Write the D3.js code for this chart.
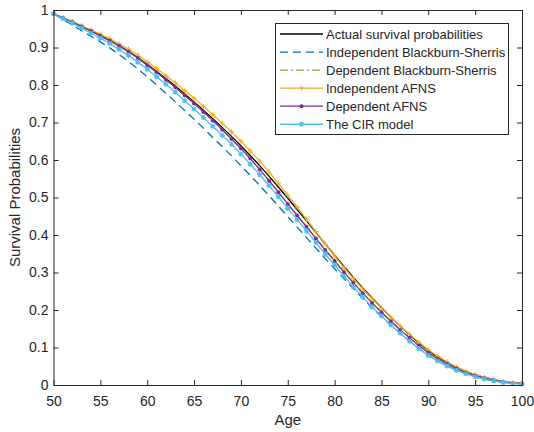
<!DOCTYPE html>
<html>
<head>
<meta charset="utf-8">
<script src="https://cdn.jsdelivr.net/npm/d3@7"></script>
<style>
  html, body { margin: 0; padding: 0; background: #fff; }
  svg { display: block; }
  text { font-family: "Liberation Sans", Arial, Helvetica, sans-serif; fill: #262626; }
</style>
</head>
<body>
<svg id="chart" width="534" height="432"></svg>
<script>
// Ages covered by the survival curves
const ages = d3.range(50, 101);

// Survival probabilities, one value per age 50..100
const actual = [
  .990, .979, .968, .956, .944, .932, .919, .905, .890, .873,
  .855, .836, .817, .797, .776, .755, .733, .710, .687, .663,
  .638, .612, .585, .557, .528, .498, .468, .438, .407, .376,
  .346, .316, .287, .259, .232, .206, .181, .157, .134, .112,
  .092, .075, .060, .047, .036, .027, .020, .014, .009, .006, .004
];
const indepBS = [
  .990, .975, .960, .945, .930, .915, .899, .881, .863, .843,
  .822, .800, .778, .755, .732, .709, .685, .660, .636, .611,
  .585, .559, .532, .505, .477, .449, .421, .393, .365, .337,
  .310, .283, .257, .231, .206, .182, .160, .138, .117, .097,
  .079, .064, .051, .040, .030, .022, .016, .011, .007, .005, .003
];
const depBS = [
  .990, .979, .968, .956, .944, .931, .918, .904, .889, .872,
  .853, .834, .814, .794, .772, .751, .728, .705, .681, .656,
  .631, .604, .575, .545, .514, .483, .452, .422, .391, .360,
  .331, .301, .273, .245, .219, .194, .170, .147, .126, .105,
  .086, .070, .056, .044, .033, .025, .018, .013, .008, .005, .004
];
const indepAFNS = [
  .990, .980, .970, .958, .947, .936, .924, .910, .896, .880,
  .862, .844, .825, .806, .785, .765, .743, .721, .698, .675,
  .650, .624, .597, .568, .538, .506, .474, .442, .409, .376,
  .344, .313, .284, .256, .230, .205, .181, .158, .135, .114,
  .094, .077, .062, .048, .037, .028, .021, .014, .009, .006, .004
];
const depAFNS = [
  .990, .979, .968, .956, .944, .931, .918, .904, .889, .872,
  .853, .834, .814, .794, .772, .751, .728, .705, .681, .656,
  .631, .604, .575, .545, .514, .483, .452, .422, .391, .360,
  .331, .301, .273, .245, .219, .194, .170, .147, .126, .105,
  .086, .070, .056, .044, .033, .025, .018, .013, .008, .005, .004
];
const cir = [
  .990, .977, .965, .952, .938, .925, .911, .895, .879, .861,
  .842, .822, .802, .781, .758, .736, .713, .690, .666, .642,
  .616, .589, .561, .532, .502, .471, .441, .411, .380, .349,
  .320, .290, .262, .235, .208, .184, .160, .138, .117, .097,
  .079, .064, .051, .039, .030, .022, .016, .011, .007, .004, .003
];

// Axis ticks
const xTicks = d3.range(50, 101, 5);
const yTicks = d3.range(0, 11).map(i => i / 10);
const yTickLabels = ["0", "0.1", "0.2", "0.3", "0.4", "0.5", "0.6", "0.7", "0.8", "0.9", "1"];

// Legend entries in plotting order
const seriesNames = [
  "Actual survival probabilities",
  "Independent Blackburn-Sherris",
  "Dependent Blackburn-Sherris",
  "Independent AFNS",
  "Dependent AFNS",
  "The CIR model"
];

const series = [
  { name: seriesNames[0], values: actual,    color: "#000000", dash: null,      marker: null },
  { name: seriesNames[1], values: indepBS,   color: "#0072BD", dash: "8,5",     marker: null },
  { name: seriesNames[2], values: depBS,     color: "#77AC30", dash: "8,3,2,3", marker: null },
  { name: seriesNames[3], values: indepAFNS, color: "#EDB120", dash: null,      marker: "plus" },
  { name: seriesNames[4], values: depAFNS,   color: "#7E2F8E", dash: null,      marker: "dot" },
  { name: seriesNames[5], values: cir,       color: "#4DBEEE", dash: null,      marker: "star" }
];

const svg = d3.select("#chart");
const plotLeft = 53.5, plotRight = 522, plotTop = 10, plotBottom = 385;
const axisColor = "#262626";

const x = d3.scaleLinear().domain([50, 100]).range([plotLeft, plotRight]);
const y = d3.scaleLinear().domain([0, 1]).range([plotBottom, plotTop]);

// Markers drawn at each data point
function drawMarker(g, kind, cx, cy, color) {
  if (kind === "plus") {
    const s = 2.5;
    g.append("path")
      .attr("d", `M${cx - s},${cy}H${cx + s}M${cx},${cy - s}V${cy + s}`)
      .attr("stroke", color).attr("stroke-width", 1.1).attr("fill", "none");
  } else if (kind === "dot") {
    g.append("circle").attr("cx", cx).attr("cy", cy).attr("r", 2)
      .attr("fill", color);
  } else if (kind === "star") {
    const s = 2.6, d = s * 0.75;
    g.append("path")
      .attr("d", `M${cx - s},${cy}H${cx + s}M${cx},${cy - s}V${cy + s}` +
                 `M${cx - d},${cy - d}L${cx + d},${cy + d}M${cx - d},${cy + d}L${cx + d},${cy - d}`)
      .attr("stroke", color).attr("stroke-width", 1.2).attr("fill", "none");
  }
}

// Curves
const line = d3.line().x((d, i) => x(ages[i])).y(d => y(d));
const plot = svg.append("g");
series.forEach(s => {
  plot.append("path")
    .datum(s.values)
    .attr("d", line)
    .attr("fill", "none")
    .attr("stroke", s.color)
    .attr("stroke-width", 1.3)
    .attr("stroke-dasharray", s.dash);
  if (s.marker) {
    const mg = plot.append("g");
    s.values.forEach((v, i) => drawMarker(mg, s.marker, x(ages[i]), y(v), s.color));
  }
});

// Axes (box with inward ticks on all four sides)
const axes = svg.append("g");
const xb = axes.append("g").attr("transform", `translate(0,${plotBottom})`)
  .call(d3.axisBottom(x).tickValues(xTicks).tickSize(-5).tickSizeOuter(0).tickPadding(11));
const xt = axes.append("g").attr("transform", `translate(0,${plotTop})`)
  .call(d3.axisTop(x).tickValues(xTicks).tickSize(-5).tickSizeOuter(0).tickFormat(""));
const yl = axes.append("g").attr("transform", `translate(${plotLeft},0)`)
  .call(d3.axisLeft(y).tickValues(yTicks).tickSize(-5).tickSizeOuter(0).tickPadding(5)
    .tickFormat((d, i) => yTickLabels[i]));
const yr = axes.append("g").attr("transform", `translate(${plotRight},0)`)
  .call(d3.axisRight(y).tickValues(yTicks).tickSize(-5).tickSizeOuter(0).tickFormat(""));

[xb, xt, yl, yr].forEach(a => {
  a.select(".domain").attr("stroke", axisColor).attr("stroke-width", 1);
  a.selectAll(".tick line").attr("stroke", axisColor).attr("stroke-width", 1);
  a.selectAll("text").attr("font-size", 14).attr("fill", axisColor)
    .attr("font-family", "'Liberation Sans', Arial, sans-serif");
});

// Axis titles
svg.append("text")
  .attr("x", (plotLeft + plotRight) / 2).attr("y", 425)
  .attr("text-anchor", "middle").attr("font-size", 15)
  .text("Age");
svg.append("text")
  .attr("transform", `translate(20,${(plotTop + plotBottom) / 2}) rotate(-90)`)
  .attr("text-anchor", "middle").attr("font-size", 15)
  .text("Survival Probabilities");

// Legend
const lg = svg.append("g");
const lx = 275, ly = 23, lw = 233, lh = 111;
lg.append("rect")
  .attr("x", lx + 0.5).attr("y", ly + 0.5).attr("width", lw).attr("height", lh)
  .attr("fill", "#fff").attr("stroke", axisColor).attr("stroke-width", 1);
series.forEach((s, i) => {
  const cy = 34 + i * 18.05;
  lg.append("line")
    .attr("x1", 280).attr("x2", 323).attr("y1", cy).attr("y2", cy)
    .attr("stroke", s.color).attr("stroke-width", 1.3)
    .attr("stroke-dasharray", s.dash);
  if (s.marker) drawMarker(lg, s.marker, 301.5, cy, s.color);
  lg.append("text")
    .attr("x", 326).attr("y", cy).attr("dy", "0.35em")
    .attr("font-size", 13)
    .text(s.name);
});
</script>
</body>
</html>
